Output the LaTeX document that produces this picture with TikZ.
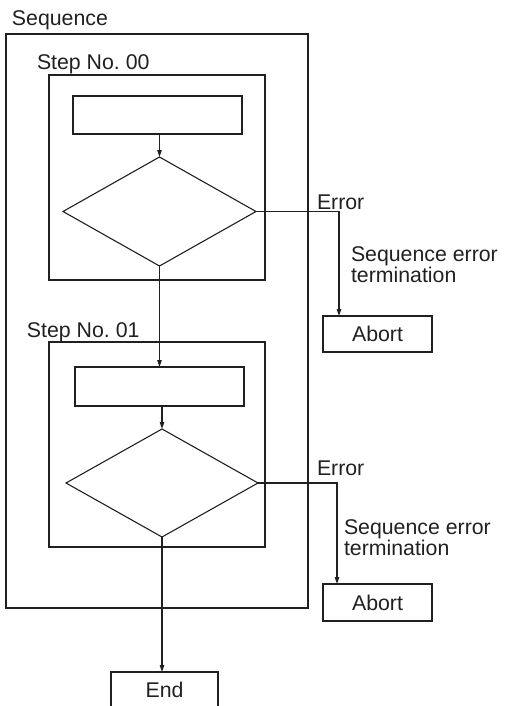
\documentclass[tikz,border=0pt]{standalone}
\usepackage{fontspec}
\setmainfont{Liberation Sans}
\frenchspacing
\usetikzlibrary{shapes.geometric,arrows.meta}
\definecolor{ink}{HTML}{231F20}
\begin{document}
\begin{tikzpicture}[x=1pt,y=-1pt,
  every node/.style={inner sep=0pt,outer sep=0pt,text=ink,font=\fontsize{21.3}{20.5}\selectfont},
  box/.style={draw=ink,line width=1.1pt,rectangle},
  dia/.style={draw=ink,line width=1.1pt,diamond},
  line/.style={draw=ink,line width=1.1pt},
  arr/.style={line,-{Triangle[length=7pt,width=4.5pt]}},
  lbl/.style={anchor=base west}]
\useasboundingbox (0,0) rectangle (504,706);
% boxes
\node[box,minimum width=302pt,minimum height=574pt] (seq) at (157,321) {};
\node[box,minimum width=216pt,minimum height=205pt] (s0) at (157,177.5) {};
\node[box,minimum width=169pt,minimum height=38pt] (r0) at (157.5,115) {};
\node[dia,minimum width=193pt,minimum height=109pt] (d0) at (159.5,211.5) {};
\node[box,minimum width=216pt,minimum height=205pt] (s1) at (157,444.5) {};
\node[box,minimum width=169pt,minimum height=39pt] (r1) at (159.5,386.5) {};
\node[dia,minimum width=192pt,minimum height=108pt] (d1) at (162,483) {};
\node[box,minimum width=109pt,minimum height=36pt] (a0) at (377.5,334) {Abort};
\node[box,minimum width=109pt,minimum height=37pt] (a1) at (377.5,602.5) {Abort};
\node[box,minimum width=107pt,minimum height=36pt] (en) at (164.5,690) {End};
% labels
\node[lbl] (tseq) at (12,26) {Sequence};
\node[lbl] (ts0) at (37,70) {Step No. 00};
\node[lbl] (ts1) at (27,337) {Step No. 01};
\node[lbl] (te0) at (317,209) {Error};
\node[lbl] (te1) at (317,475) {Error};
\node[anchor=north west,align=left] (tt0) at (351,246.7) {Sequence error\\termination};
\node[anchor=north west,align=left] (tt1) at (344,520) {Sequence error\\termination};
% connectors
\draw[arr] (d0.north |- r0.south) -- (d0.north);
\draw[arr] (d0.south) -- (d0.south |- r1.north);
\draw[arr] (d1.north |- r1.south) -- (d1.north);
\draw[arr] (d1.south) -- (d1.south |- en.north);
\draw[arr] (d0.east) -| ([xshift=-38.5pt]a0.north);
\draw[arr] (d1.east) -| ([xshift=-40.5pt]a1.north);
\end{tikzpicture}
\end{document}
